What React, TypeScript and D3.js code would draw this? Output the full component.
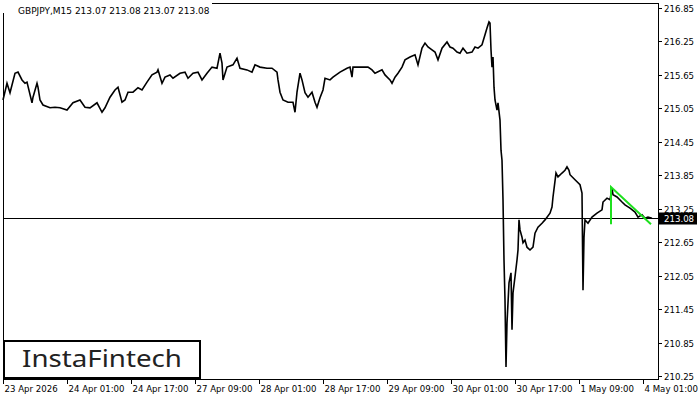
import React from "react";
import * as d3 from "d3";

const bars = [0,4,7,12,15,19,22,24,29,30,34,35,37,40,47,52,57,64,70,77,82,87,94,99,102,107,112,115,119,122,125,130,135,139,144,149,154,155,159,162,167,170,177,182,185,190,195,199,204,209,214,217,219,220,224,230,234,237,244,249,252,257,264,269,274,275,277,280,285,290,292,294,297,299,302,305,309,312,314,317,320,322,327,330,337,344,347,349,350,357,365,369,372,379,382,387,389,392,395,399,402,407,412,415,419,422,425,429,432,435,439,444,447,450,454,457,460,464,469,472,475,479,482,484,486,487,488,489,490,491,492,494,495,497,498,499,500,501,502,503,504,506,508,509,510,512,514,515,516,517,519,520,522,524,527,530,532,535,539,542,547,549,550,553,555,559,562,564,566,567,572,577,579,580,581,582,585,589,594,599,600,604,607,609,610,614,619,622,627,632,635,639,642,645,649];
const closes = [215.20,215.50,215.33,215.68,215.70,215.56,215.50,215.52,215.15,215.25,215.50,215.43,215.20,215.11,215.06,215.07,215.06,215.02,215.15,215.20,215.07,215.06,215.15,214.98,215.06,215.25,215.38,215.43,215.16,215.20,215.34,215.34,215.42,215.38,215.52,215.65,215.70,215.74,215.50,215.61,215.65,215.59,215.68,215.70,215.59,215.68,215.70,215.56,215.68,215.79,215.77,216.04,215.86,215.56,215.79,215.83,215.95,215.77,215.74,215.70,215.83,215.79,215.77,215.77,215.70,215.56,215.34,215.20,215.16,215.16,214.98,215.34,215.68,215.56,215.33,215.25,215.34,215.16,215.07,215.24,215.38,215.59,215.56,215.61,215.70,215.77,215.79,215.61,215.79,215.79,215.79,215.74,215.68,215.74,215.65,215.56,215.50,215.61,215.68,215.79,215.92,215.97,216.01,215.83,216.13,216.22,216.15,216.10,216.06,215.92,216.13,216.24,216.15,216.13,216.06,216.04,216.13,216.04,216.06,216.15,216.13,216.19,216.37,216.49,216.60,216.58,216.10,215.79,215.97,215.43,215.20,215.02,215.15,214.84,214.30,214.12,213.41,212.33,211.61,210.41,211.20,211.92,212.10,211.08,211.74,212.03,212.33,212.51,213.05,212.87,212.74,212.64,212.69,212.56,212.51,212.56,212.81,212.92,212.99,213.05,213.17,213.28,213.46,213.89,213.82,213.89,213.94,214.00,213.94,213.86,213.77,213.68,213.53,211.79,212.74,213.05,212.99,213.10,213.17,213.23,213.37,213.44,213.41,213.62,213.50,213.46,213.37,213.32,213.26,213.19,213.10,213.14,213.08,213.10,213.08];

const patternBars = [608, 608, 648];
const patternPrices = [212.97, 213.64, 212.97];

const priceTicks = [216.85, 216.25, 215.65, 215.05, 214.45, 213.85, 213.25, 212.65, 212.05, 211.45, 210.85, 210.25];
const timeTickBars = [0, 64, 128, 192, 256, 320, 384, 448, 512, 576, 640];
const timeTickLabels = ["23 Apr 2026", "24 Apr 01:00", "24 Apr 17:00", "27 Apr 09:00", "28 Apr 01:00", "28 Apr 17:00", "29 Apr 09:00", "30 Apr 01:00", "30 Apr 17:00", "1 May 09:00", "4 May 01:00"];

const lastPrice = 213.08;
const title = "GBPJPY,M15  213.07 213.08 213.07 213.08";

export default function App() {
  const W = 700, H = 400;
  const left = 3, top = 3, right = 658, bottom = 379;
  const x = d3.scaleLinear().domain([0, 650]).range([3, 653]);
  const y = d3.scaleLinear().domain([210.25, 216.85]).range([376, 8]);
  const pts: [number, number][] = bars.map((b, i) => [b, closes[i]]);
  const line = d3.line<[number, number]>().x(d => x(d[0])).y(d => y(d[1]));
  const pat: [number, number][] = patternBars.map((b, i) => [b, patternPrices[i]]);
  const font = "'DejaVu Sans', sans-serif";
  const ly = Math.round(y(lastPrice)) + 0.5;
  return (
    <svg width={W} height={H} style={{ position: "absolute", left: 0, top: 0, background: "#fff" }}>
      <rect x={0} y={0} width={W} height={H} fill="#fff" />
      <rect x={left + 0.5} y={top + 0.5} width={right - left} height={bottom - top} fill="none" stroke="#000" strokeWidth={1} />
      <rect x={0} y={0} width={212} height={13} fill="#fff" />
      <text x={18} y={14} fontFamily={font} fontSize={9} fill="#000">{title}</text>
      <line x1={left} x2={right} y1={ly} y2={ly} stroke="#000" strokeWidth={1} />
      <path d={line(pts) || ""} fill="none" stroke="#000" strokeWidth={1.6} strokeLinejoin="miter" />
      <path d={line(pat) || ""} fill="none" stroke="#1ee01e" strokeWidth={2} />
      {priceTicks.map((p, i) => {
        const yy = Math.round(y(p)) + 0.5;
        return (
          <g key={i}>
            <line x1={right} x2={right + 4} y1={yy} y2={yy} stroke="#000" />
            <text x={right + 6} y={yy} dy="0.35em" fontFamily={font} fontSize={8.6} fill="#000">{p.toFixed(2)}</text>
          </g>
        );
      })}
      <rect x={right + 1} y={ly - 6} width={38} height={12} fill="#000" />
      <text x={right + 6} y={ly} dy="0.35em" fontFamily={font} fontSize={8.6} fill="#fff">{lastPrice.toFixed(2)}</text>
      {timeTickBars.map((b, i) => {
        const xx = Math.round(x(b)) + 0.5;
        return (
          <g key={i}>
            <line x1={xx} x2={xx} y1={bottom} y2={bottom + 5} stroke="#000" />
            <text x={xx + 1} y={392} fontFamily={font} fontSize={8.6} fill="#000">{timeTickLabels[i]}</text>
          </g>
        );
      })}
      <rect x={4} y={341} width={196} height={37} fill="#fff" stroke="#000" strokeWidth={2} />
      <text x={22} y={367} fontFamily="'Noto Sans', sans-serif" fontSize={23} fontWeight={400} fill="#222" textLength={160} lengthAdjust="spacingAndGlyphs">InstaFintech</text>
    </svg>
  );
}
